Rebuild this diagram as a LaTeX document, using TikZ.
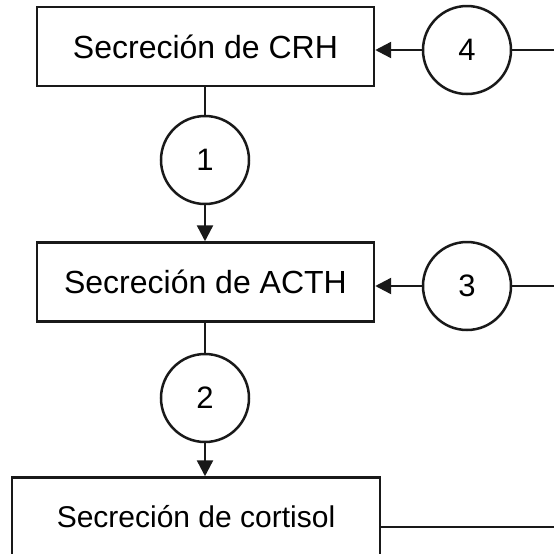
\documentclass[tikz,border=0pt]{standalone}
\usepackage{fontspec}
\setmainfont{Liberation Sans}
\usepackage{tikz}
\usetikzlibrary{
  arrows.meta,
  positioning,
  calc
}

\begin{document}
\begin{tikzpicture}[
  x=0.5pt, y=-0.5pt,
  stage/.style={rectangle, draw=black!90, line width=1.25pt, minimum width=168.5pt, minimum height=39.5pt, inner sep=0pt, font=\fontsize{16}{18}\selectfont, fill=white},
  effect/.style={circle, draw=black!90, line width=1.25pt, minimum size=44pt, inner sep=0pt, font=\fontsize{15.5}{17}\selectfont},
  feed/.style={-{Triangle[length=8pt, width=8pt]}, line width=1.2pt, black!90},
  link/.style={line width=1.2pt, black!90}
]
  \clip (0,0) rectangle (554,554);
  \fill[white] (0,0) rectangle (554,554);

  \node[stage] (crh) at (205.5,46.5) {Secreción de CRH};
  \node[stage] (acth) at (205.5,282) {Secreción de ACTH};
  \node[stage, minimum width=184pt, font=\fontsize{15}{17}\selectfont] (cort) at (196,517) {Secreción de cortisol};

  \node[effect] (c1) at (205,160) {1};
  \node[effect] (c2) at (205,398) {2};
  \node[effect] (c3) at (467,286) {3};
  \node[effect] (c4) at (467,50) {4};

  \coordinate (out4) at (554,50);
  \coordinate (out3) at (554,286);
  \coordinate (out0) at (554,527);

  \draw[link] (crh.south -| c1.north) -- (c1.north);
  \draw[feed] (c1.south) -- (c1.south |- acth.north);
  \draw[link] (acth.south -| c2.north) -- (c2.north);
  \draw[feed] (c2.south) -- (c2.south |- cort.north);

  \draw[feed] (c4.west) -- (crh.east |- c4.west);
  \draw[link] (c4.east) -- (out4);
  \draw[feed] (c3.west) -- (acth.east |- c3.west);
  \draw[link] (c3.east) -- (out3);
  \draw[link] (cort.east |- out0) -- (out0);
\end{tikzpicture}
\end{document}
